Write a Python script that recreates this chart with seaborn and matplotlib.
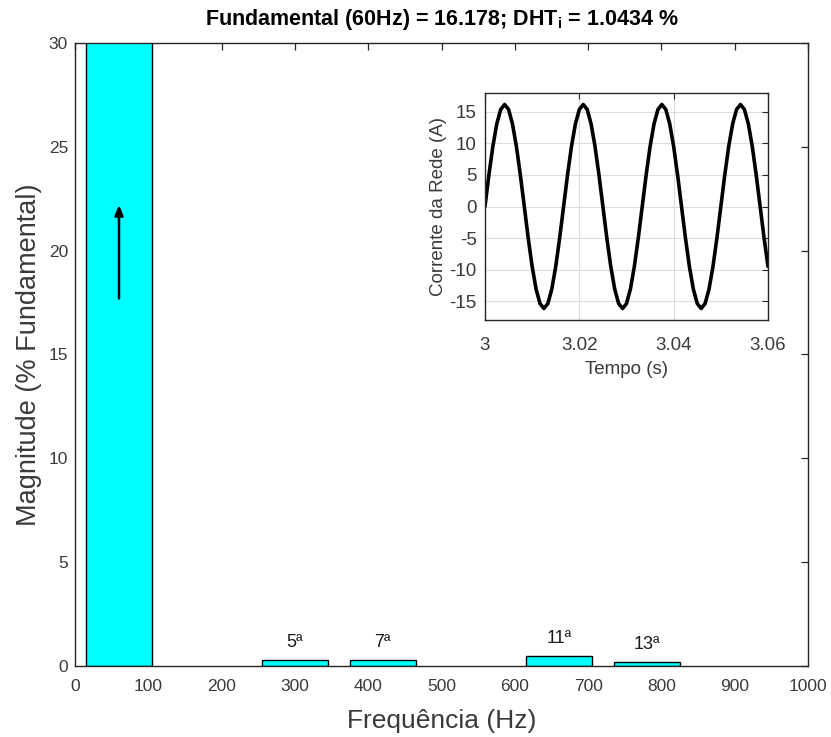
import numpy as np
import pandas as pd
import matplotlib
matplotlib.use("Agg")
import matplotlib.pyplot as plt
import seaborn as sns

# Harmonic spectrum (% of the fundamental)
freq_hz = [60, 300, 420, 660, 780]
magnitude_pct = [100.0, 0.27, 0.27, 0.48, 0.21]
harmonic_labels = ["", "5ª", "7ª", "11ª", "13ª"]

x_ticks = [0, 100, 200, 300, 400, 500, 600, 700, 800, 900, 1000]
y_ticks = [0, 5, 10, 15, 20, 25, 30]

# Grid current waveform, sampled every 1/1200 s from 3.00 s to 3.06 s
current_a = [
    0, 5.0, 9.51, 13.09, 15.39, 16.18, 15.39, 13.09, 9.51, 5.0,
    0, -5.0, -9.51, -13.09, -15.39, -16.18, -15.39, -13.09, -9.51, -5.0,
    0, 5.0, 9.51, 13.09, 15.39, 16.18, 15.39, 13.09, 9.51, 5.0,
    0, -5.0, -9.51, -13.09, -15.39, -16.18, -15.39, -13.09, -9.51, -5.0,
    0, 5.0, 9.51, 13.09, 15.39, 16.18, 15.39, 13.09, 9.51, 5.0,
    0, -5.0, -9.51, -13.09, -15.39, -16.18, -15.39, -13.09, -9.51, -5.0,
    0, 5.0, 9.51, 13.09, 15.39, 16.18, 15.39, 13.09, 9.51, 5.0,
    0, -5.0, -9.51,
]
t_start, t_end = 3.0, 3.06
inset_x_ticks = [3.0, 3.02, 3.04, 3.06]
inset_x_labels = ["3", "3.02", "3.04", "3.06"]
inset_y_ticks = [-15, -10, -5, 0, 5, 10, 15]

fundamental_amp = 16.178
thd_pct = 1.0434

sns.set_style("white")
plt.rcParams["font.family"] = ["Liberation Sans", "DejaVu Sans"]
plt.rcParams["mathtext.fontset"] = "custom"
plt.rcParams["mathtext.rm"] = "Liberation Sans"
plt.rcParams["mathtext.bf"] = "Liberation Sans:bold"
plt.rcParams["axes.unicode_minus"] = False

AX_COLOR = "#262626"
TXT_COLOR = "#3a3a3a"

fig = plt.figure(figsize=(8.31, 7.37), dpi=100)
ax = fig.add_axes([0.0903, 0.0963, 0.8820, 0.8454])

spec = pd.DataFrame({"freq": freq_hz, "mag": magnitude_pct})
sns.barplot(data=spec, x="freq", y="mag", native_scale=True, width=0.75,
            color="#00FFFF", saturation=1, edgecolor="black", linewidth=1.0,
            errorbar=None, ax=ax)

ax.set_xlim(0, 1000)
ax.set_ylim(0, 30)
ax.set_xticks(x_ticks)
ax.set_yticks(y_ticks)
ax.tick_params(direction="in", length=5, width=0.9, colors=AX_COLOR,
               labelcolor=TXT_COLOR, labelsize=12.5, top=True, right=True)
ax.tick_params(axis="x", pad=9)
ax.tick_params(axis="y", pad=5)
for s in ax.spines.values():
    s.set_visible(True)
    s.set_color(AX_COLOR)
    s.set_linewidth(1.0)

for f, m, lab in zip(freq_hz, magnitude_pct, harmonic_labels):
    if lab:
        ax.text(f, m + 0.85, lab, ha="center", va="center", fontsize=13,
                color="#1a1a1a")

# Arrow marking the off-scale fundamental bar
ax.annotate("", xy=(freq_hz[0], 22.2), xytext=(freq_hz[0], 17.7),
            arrowprops=dict(arrowstyle="-|>,head_length=0.6,head_width=0.25",
                            color="black", lw=1.8, shrinkA=0, shrinkB=0))

ax.set_xlabel("Frequência (Hz)", fontsize=19, color=TXT_COLOR, labelpad=11)
ax.set_ylabel("Magnitude (% Fundamental)", fontsize=19.5, color=TXT_COLOR,
              labelpad=5)
ax.set_title(f"Fundamental (60Hz) = {fundamental_amp}; "
             r"DHT$_{\mathbf{i}}$" f" = {thd_pct} %",
             fontsize=15.5, fontweight="bold", color="black", pad=13)

# Inset with the grid current waveform
ins = fig.add_axes([0.5836, 0.5658, 0.3406, 0.3080])
t = np.linspace(t_start, t_end, len(current_a))
sns.lineplot(x=t, y=current_a, color="black", linewidth=2.6, ax=ins)
ins.set_xlim(t_start, t_end)
ins.set_ylim(-18, 18)
ins.set_xticks(inset_x_ticks)
ins.set_xticklabels(inset_x_labels)
ins.set_yticks(inset_y_ticks)
ins.grid(True, color="#dcdcdc", linewidth=0.8)
ins.tick_params(direction="in", length=4, width=0.8, colors=AX_COLOR,
                labelcolor=TXT_COLOR, labelsize=13.5, top=True, right=True,
                pad=6)
ins.tick_params(axis="x", pad=12)
for s in ins.spines.values():
    s.set_visible(True)
    s.set_color(AX_COLOR)
    s.set_linewidth(1.0)
ins.set_xlabel("Tempo (s)", fontsize=13.5, color=TXT_COLOR, labelpad=5)
ins.set_ylabel("Corrente da Rede (A)", fontsize=13.5, color=TXT_COLOR,
               labelpad=2)

fig.savefig("out.png", dpi=100)
